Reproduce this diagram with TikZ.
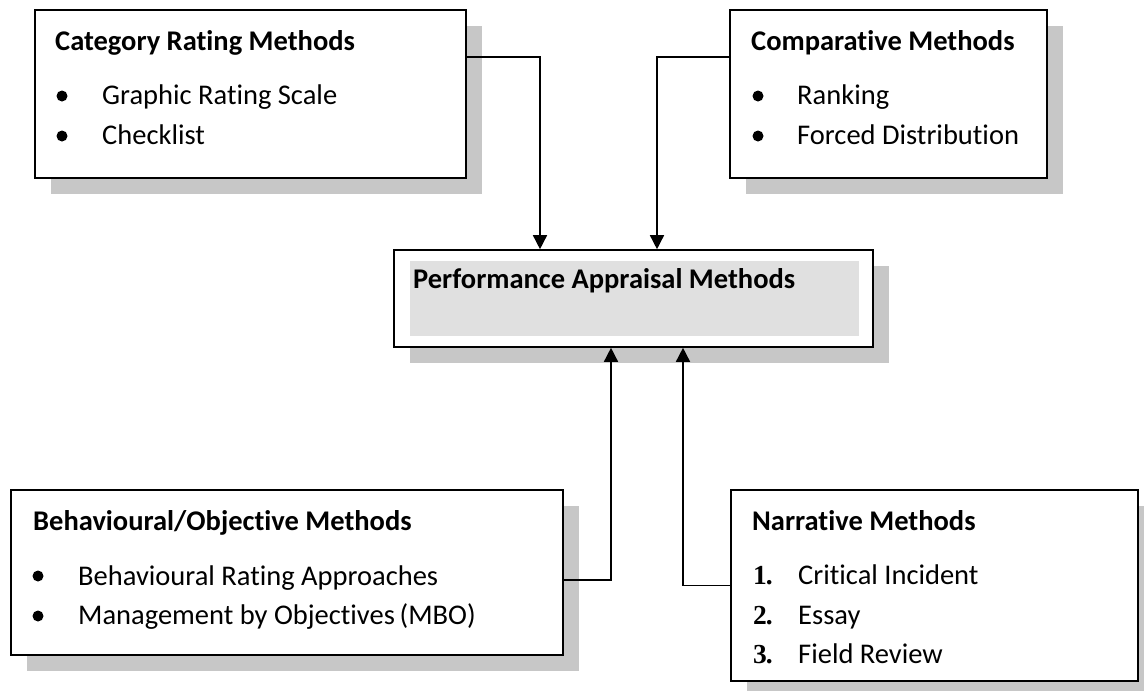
\documentclass[tikz,border=0pt]{standalone}
\usepackage{fontspec}
\setmainfont{Carlito}[Ligatures={NoCommon}]
\newfontfamily\numfont{Liberation Serif}
\usepackage{xcolor}
\usetikzlibrary{positioning, arrows.meta, shadows}
\definecolor{shade}{RGB}{199,199,199}
\definecolor{panel}{RGB}{224,224,224}

\begin{document}
\begin{tikzpicture}[x=1pt, y=-1pt, font=\fontsize{28.5}{34}\selectfont,
    group/.style={draw, line width=1.6pt, fill=white, inner sep=0pt,
        drop shadow={shadow xshift=16pt, shadow yshift=-16pt, fill=shade, opacity=1}},
    head/.style={anchor=base west, inner sep=0pt, font=\fontsize{28.5}{34}\selectfont\bfseries},
    item/.style={anchor=base west, inner sep=0pt},
    num/.style={anchor=base west, inner sep=0pt, font=\fontsize{27.5}{34}\selectfont\numfont\bfseries},
    dot/.style={circle, fill=black, inner sep=0pt, minimum size=11pt},
    link/.style={line width=1.5pt, -{Triangle[length=14pt, width=14pt]}}]
    \useasboundingbox (0,0) rectangle (1144,691);

    % outer boxes
    \node[group, minimum width=431pt, minimum height=168pt] (cat) at (250.5,94) {};
    \node[group, minimum width=317pt, minimum height=168pt] (cmp) at (888.5,94) {};
    \node[group, minimum width=479pt, minimum height=97pt] (pam) at (633.5,298.5) {};
    \node[group, minimum width=552pt, minimum height=165pt] (beh) at (287,572.5) {};
    \node[group, minimum width=407pt, minimum height=191pt] (nar) at (934.5,585.5) {};
    \node[fill=panel, inner sep=0pt, minimum width=449pt, minimum height=75pt] (pamP) at (634.5,298.5) {};

    % texts
    \node[head] (catH) at (55,50) {Category Rating Methods};
    \node[dot] (catD1) at (62,96) {};
    \node[item] (catI1) at (102,104) {Graphic Rating Scale};
    \node[dot] (catD2) at (62,136) {};
    \node[item] (catI2) at (102,144) {Checklist};

    \node[head] (cmpH) at (751,50) {Comparative Methods};
    \node[dot] (cmpD1) at (758,96) {};
    \node[item] (cmpI1) at (797,104) {Ranking};
    \node[dot] (cmpD2) at (758,136) {};
    \node[item] (cmpI2) at (797,144) {Forced Distribution};

    \node[head] (pamH) at (413,288) {Performance Appraisal Methods};

    \node[head] (behH) at (33,530) {Behavioural/Objective Methods};
    \node[dot] (behD1) at (38,576) {};
    \node[item] (behI1) at (78,585) {Behavioural Rating Approaches};
    \node[dot] (behD2) at (38,616) {};
    \node[item] (behI2) at (78,624) {Management by Objectives\,(MBO)};

    \node[head] (narH) at (752,530) {Narrative Methods};
    \node[num] (narN1) at (753,584) {1\kern-1pt.};
    \node[item] (narI1) at (798,584) {Critical Incident};
    \node[num] (narN2) at (753,624) {2\kern-1pt.};
    \node[item] (narI2) at (798,624) {Essay};
    \node[num] (narN3) at (753,663) {3\kern-1pt.};
    \node[item] (narI3) at (798,663) {Field Review};

    % connectors
    \draw[link] ([yshift=-48pt]cat.north east) -| ([xshift=-93.5pt]pam.north);
    \draw[link] ([yshift=-48pt]cmp.north west) -| ([xshift=23.5pt]pam.north);
    \draw[link] ([yshift=-7.5pt]beh.east) -| ([xshift=-22.5pt]pam.south);
    \draw[link] (nar.west) -| ([xshift=49.5pt]pam.south);
\end{tikzpicture}
\end{document}
